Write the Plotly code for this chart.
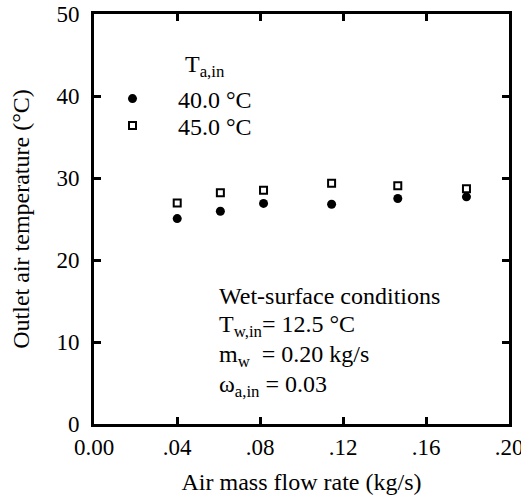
import plotly.graph_objects as go

# data
flow = [0.0401, 0.0609, 0.0817, 0.1145, 0.1464, 0.1795]
t40 = [25.05, 25.95, 26.9, 26.8, 27.5, 27.7]
t45 = [26.95, 28.2, 28.5, 29.35, 29.05, 28.7]
xticks = [0.0, 0.04, 0.08, 0.12, 0.16, 0.20]
xticktext = ["0.00", ".04", ".08", ".12", ".16", ".20"]
yticks = [0, 10, 20, 30, 40, 50]

FONT = "Liberation Serif"

fig = go.Figure()
fig.add_trace(go.Scatter(x=flow, y=t40, mode="markers", name="40.0 °C",
                         legend="legend",
                         marker=dict(symbol="circle", size=9, color="black")))
fig.add_trace(go.Scatter(x=flow, y=t45, mode="markers", name="45.0 °C",
                         legend="legend2",
                         marker=dict(symbol="square-open", size=7, color="black",
                                     line=dict(width=2, color="black"))))

axis_common = dict(showline=True, linewidth=3, linecolor="black", mirror="ticks",
                   ticks="inside", ticklen=7, tickwidth=3, tickcolor="black",
                   showgrid=False, zeroline=False, automargin=False,
                   ticklabeloverflow="allow",
                   tickfont=dict(family=FONT, size=23, color="black"))

fig.update_xaxes(range=[0, 0.2], tickvals=xticks, ticktext=xticktext,
                 title=dict(text="Air mass flow rate (kg/s)",
                            font=dict(family=FONT, size=24, color="black"), standoff=15),
                 ticklabelstandoff=0, **axis_common)
fig.update_yaxes(range=[0, 50], tickvals=yticks,
                 title=dict(text="Outlet air temperature (°C)",
                            font=dict(family=FONT, size=24, color="black"), standoff=21),
                 ticklabelstandoff=7, **axis_common)


def px_x(p):
    return (p - 94) / (509 - 94)


def px_y(p):
    return (424 - p) / (424 - 14)


fig.add_annotation(x=px_x(183), y=px_y(66), xref="paper", yref="paper",
                   text="T<sub>a,in</sub>", showarrow=False, xanchor="left", yanchor="middle",
                   font=dict(family=FONT, size=24, color="black"))

lines = ["Wet-surface conditions",
         "T<sub>w,in</sub>= 12.5 °C",
         "m<sub>w</sub>  = 0.20 kg/s",
         "ω<sub>a,in</sub> = 0.03"]
for i, t in enumerate(lines):
    fig.add_annotation(x=px_x(217), y=px_y(296 + 30 * i), xref="paper", yref="paper",
                       text=t, showarrow=False, xanchor="left", yanchor="middle",
                       font=dict(family=FONT, size=24, color="black"))

leg_common = dict(xanchor="left", yanchor="middle", bgcolor="rgba(0,0,0,0)",
                  itemwidth=81, font=dict(family=FONT, size=24, color="black"))

fig.update_layout(
    width=521, height=500,
    margin=dict(l=94, r=12, t=14, b=76),
    paper_bgcolor="white", plot_bgcolor="white",
    showlegend=True,
    legend=dict(x=px_x(87), y=px_y(99), **leg_common),
    legend2=dict(x=px_x(87), y=px_y(126), **leg_common),
)

fig.write_html("out.html", config={"displayModeBar": False},
               post_script="document.body.style.margin='0';document.body.style.overflow='hidden';")
